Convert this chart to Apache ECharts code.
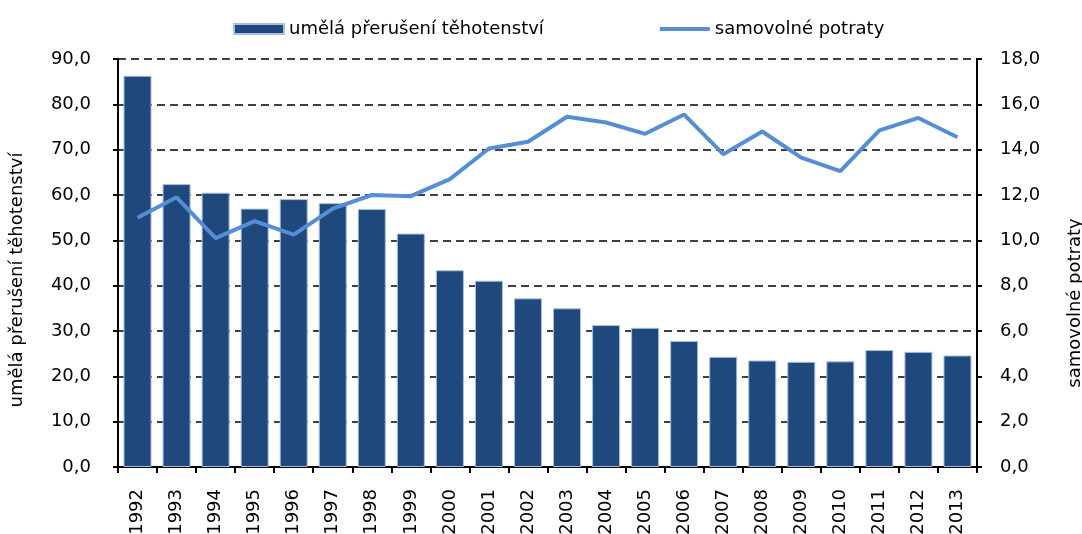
<!DOCTYPE html>
<html>
<head>
<meta charset="utf-8">
<script src="https://cdn.jsdelivr.net/npm/echarts@6/dist/echarts.min.js"></script>
<style>
  html, body { margin: 0; padding: 0; background: #fff; }
  #chart { width: 1082px; height: 534px; }
</style>
</head>
<body>
<div id="chart"></div>
<script>
// data
const years = ['1992', '1993', '1994', '1995', '1996', '1997', '1998', '1999', '2000', '2001', '2002',
  '2003', '2004', '2005', '2006', '2007', '2008', '2009', '2010', '2011', '2012', '2013'];
const umelaPreruseni = [86.3, 62.4, 60.5, 57.0, 59.1, 58.2, 56.9, 51.5, 43.4, 41.1, 37.2,
  35.0, 31.3, 30.7, 27.8, 24.3, 23.5, 23.2, 23.3, 25.8, 25.4, 24.6];
const samovolnePotraty = [11.0, 11.9, 10.1, 10.85, 10.25, 11.4, 12.0, 11.95, 12.7, 14.05, 14.35,
  15.45, 15.2, 14.7, 15.55, 13.8, 14.8, 13.65, 13.05, 14.85, 15.4, 14.55];
const seriesNames = ['umělá přerušení těhotenství', 'samovolné potraty'];

const chart = echarts.init(document.getElementById('chart'));
const font = '"DejaVu Sans", sans-serif';
const fmt = v => v.toFixed(1).replace('.', ',');

const option = {
  animation: false,
  textStyle: { fontFamily: font },
  legend: {
    left: 228,
    top: 15,
    itemWidth: 50,
    itemHeight: 10,
    itemGap: 116,
    textStyle: { fontSize: 18, color: '#000', fontFamily: font },
    data: [
      { name: seriesNames[0], icon: 'rect' },
      // plain thick line, no dot
      { name: seriesNames[1], icon: 'path://M0 0H52V4H0Z' }
    ]
  },
  // fixed plot box, labels are allowed to run past the edges
  grid: { left: 118, right: 105, top: 59, bottom: 67, outerBoundsMode: 'none', containLabel: false },
  xAxis: [
    {
      type: 'category',
      data: years,
      axisLine: { lineStyle: { color: '#000', width: 2 } },
      axisTick: { show: true, length: 6, lineStyle: { color: '#000', width: 2 } },
      axisLabel: { rotate: 90, margin: 22, fontSize: 18, color: '#000', fontFamily: font }
    },
    {
      type: 'category',
      position: 'top',
      data: years,
      axisLine: { show: true, lineStyle: { color: '#000', width: 2 } },
      axisTick: { show: false },
      axisLabel: { show: false }
    }
  ],
  yAxis: [
    {
      type: 'value',
      min: 0,
      max: 90,
      interval: 10,
      name: seriesNames[0],
      nameLocation: 'middle',
      nameRotate: 90,
      nameGap: 92,
      nameTextStyle: { fontSize: 18, color: '#000', fontFamily: font, padding: [0, 0, 0, -34] },
      axisLine: { show: true, lineStyle: { color: '#000', width: 2 } },
      axisTick: { show: true, length: 5, lineStyle: { color: '#000', width: 2 } },
      axisLabel: { margin: 27, fontSize: 18, color: '#000', fontFamily: font, formatter: fmt },
      splitLine: { lineStyle: { color: '#000', width: 1.5, type: [8, 5] } }
    },
    {
      type: 'value',
      min: 0,
      max: 18,
      interval: 2,
      name: seriesNames[1],
      nameLocation: 'middle',
      nameRotate: 90,
      nameGap: 89,
      nameTextStyle: { fontSize: 18, color: '#000', fontFamily: font, padding: [0, 0, 0, -80] },
      axisLine: { show: true, lineStyle: { color: '#000', width: 2 } },
      axisTick: { show: true, length: 5, lineStyle: { color: '#000', width: 2 } },
      axisLabel: { margin: 23, fontSize: 18, color: '#000', fontFamily: font, formatter: fmt },
      splitLine: { show: false }
    }
  ],
  series: [
    {
      name: seriesNames[0],
      type: 'bar',
      yAxisIndex: 0,
      barWidth: 28,
      data: umelaPreruseni,
      itemStyle: { color: '#1F497D', borderColor: '#a9bfdc', borderWidth: 1 }
    },
    {
      name: seriesNames[1],
      type: 'line',
      yAxisIndex: 1,
      symbol: 'none',
      data: samovolnePotraty,
      lineStyle: { color: '#558ED5', width: 4 },
      itemStyle: { color: '#558ED5' }
    }
  ]
};

chart.setOption(option);
</script>
</body>
</html>
